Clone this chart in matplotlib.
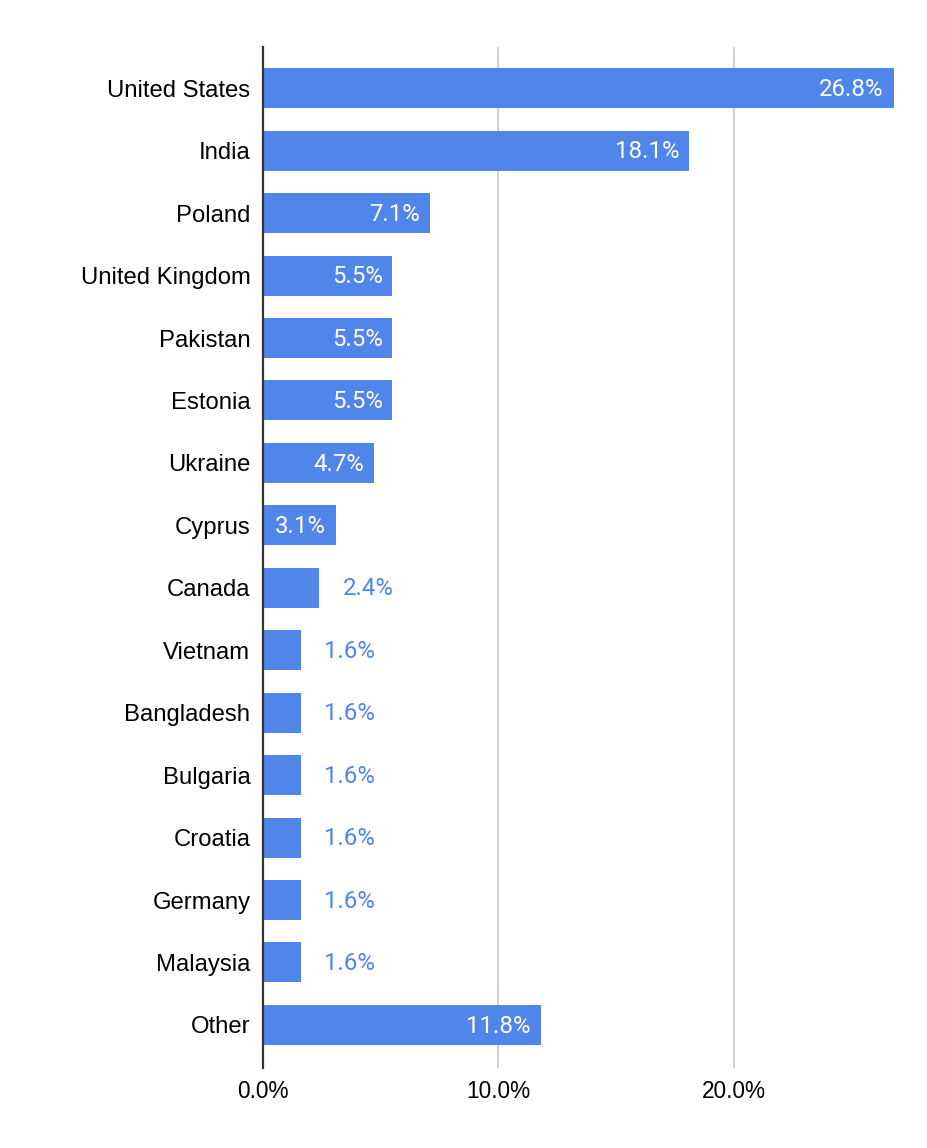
import matplotlib
matplotlib.use("Agg")
import matplotlib.pyplot as plt
from matplotlib.ticker import FuncFormatter

countries = ["United States", "India", "Poland", "United Kingdom", "Pakistan",
             "Estonia", "Ukraine", "Cyprus", "Canada", "Vietnam", "Bangladesh",
             "Bulgaria", "Croatia", "Germany", "Malaysia", "Other"]
shares = [26.8, 18.1, 7.1, 5.5, 5.5, 5.5, 4.7, 3.1, 2.4, 1.6, 1.6, 1.6, 1.6, 1.6, 1.6, 11.8]

blue = "#5086E9"

fig = plt.figure(figsize=(9.28, 11.48), dpi=100)
ax = fig.add_axes([263 / 928, 1 - 1068 / 1148, 640 / 928, (1068 - 47) / 1148])

ypos = list(range(len(countries)))
ax.barh(ypos, shares, height=0.64, color=blue, zorder=3)

ax.set_xlim(0, 27.2)
ax.set_ylim(15.69, -0.66)
ax.set_yticks(ypos)
ax.set_yticklabels(countries, fontfamily="Liberation Sans", fontsize=17.2)
ax.set_xticks([0, 10, 20])
ax.xaxis.set_major_formatter(FuncFormatter(lambda v, p: f"{v:.1f}%"))
for t in ax.get_xticklabels():
    t.set_fontfamily("Liberation Sans")
    t.set_fontsize(16.3)
ax.tick_params(axis="y", length=0, pad=9)
ax.tick_params(axis="x", length=0, pad=9)
ax.grid(axis="x", color="#cccccc", linewidth=1.3, zorder=0)

for s in ["top", "right", "bottom"]:
    ax.spines[s].set_visible(False)
ax.spines["left"].set_color("#333333")
ax.spines["left"].set_linewidth(1.6)
ax.spines["left"].set_zorder(4)

# labels: inside bar (white) when it fits, otherwise just outside in blue
for y, v in zip(ypos, shares):
    txt = f"{v}%"
    if v >= 3:
        ax.annotate(txt, (v, y), xytext=(-7, -0.8), textcoords="offset points",
                    ha="right", va="center", color="white", fontsize=17.3,
                    fontfamily="Roboto", zorder=5)
    else:
        ax.annotate(txt, (v, y), xytext=(17, -0.8), textcoords="offset points",
                    ha="left", va="center", color=blue, fontsize=17.3,
                    fontfamily="Roboto", zorder=5)

fig.savefig("out.png", dpi=100)
